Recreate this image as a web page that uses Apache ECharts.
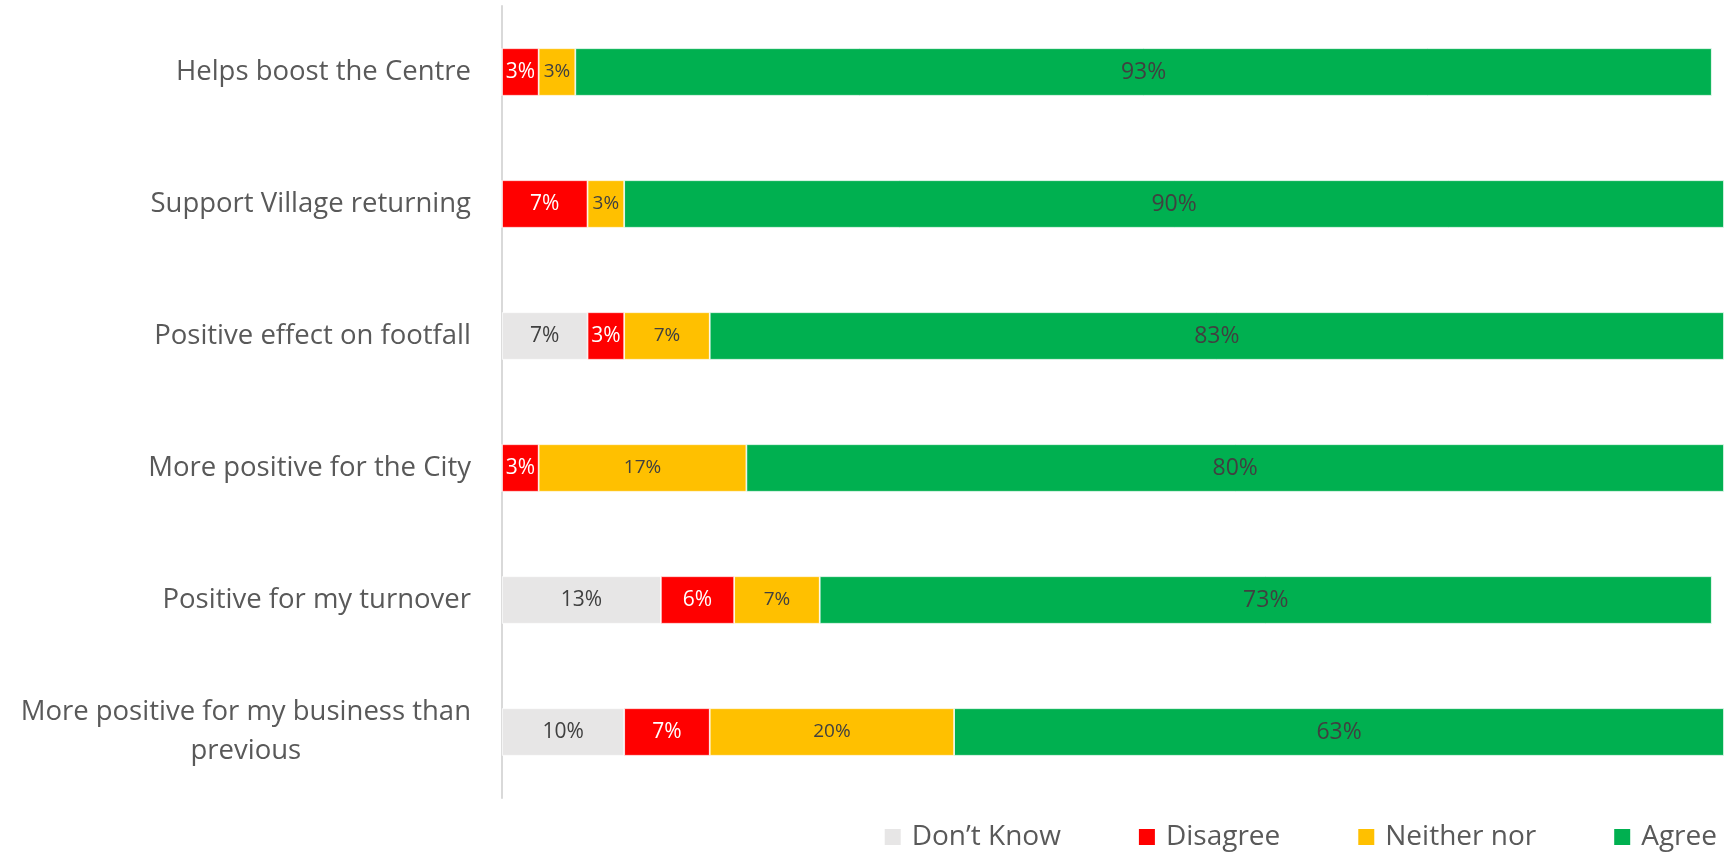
<!DOCTYPE html>
<html>
<head>
<meta charset="utf-8">
<title>Survey agreement by statement</title>
<script src="https://cdn.jsdelivr.net/npm/echarts@6/dist/echarts.min.js"></script>
<style>
  html, body { margin: 0; padding: 0; background: #ffffff; }
  #chart { width: 1734px; height: 855px; }
</style>
</head>
<body>
<div id="chart"></div>
<script>
// Statements, listed top to bottom
const categories = [
  'Helps boost the Centre',
  'Support Village returning',
  'Positive effect on footfall',
  'More positive for the City',
  'Positive for my turnover',
  'More positive for my business than previous'
];

// Share of responses (%) per statement
const dontKnow = [0, 0, 7, 0, 13, 10];
const disagree = [3, 7, 3, 3, 6, 7];
const neither  = [3, 3, 7, 17, 7, 20];
const agree    = [93, 90, 83, 80, 73, 63];

const seriesNames = ['Don\u2019t Know', 'Disagree', 'Neither nor', 'Agree'];

const FONT = '"Open Sans", "DejaVu Sans", sans-serif';
const AXIS_LABEL_SIZE = 27.5;
const LEGEND_SIZE = 28;
const LABEL_WRAP_WIDTH = 472;

// Greedy word wrap based on measured text width
const measureCtx = document.createElement('canvas').getContext('2d');
measureCtx.font = AXIS_LABEL_SIZE + 'px "Open Sans"';
function wrapLabel(text, maxWidth) {
  const words = text.split(' ');
  const lines = [];
  let line = '';
  words.forEach(function (w) {
    const test = line ? line + ' ' + w : w;
    if (line && measureCtx.measureText(test).width > maxWidth) {
      lines.push(line);
      line = w;
    } else {
      line = test;
    }
  });
  if (line) lines.push(line);
  return lines;
}

function pctLabel(color, size) {
  return {
    show: true,
    position: 'inside',
    color: color,
    fontFamily: FONT,
    fontSize: size,
    formatter: function (p) { return p.value ? p.value + '%' : ''; }
  };
}

function barSeries(name, data, color, labelColor, labelSize) {
  return {
    name: name,
    type: 'bar',
    stack: 'total',
    data: data,
    barCategoryGap: '64%',
    itemStyle: { color: color, borderColor: '#ffffff', borderWidth: 0.75 },
    label: pctLabel(labelColor, labelSize),
    emphasis: { disabled: true }
  };
}

const chart = echarts.init(document.getElementById('chart'));
chart.setOption({
  animation: false,
  backgroundColor: '#ffffff',
  grid: { left: 502, right: 10, top: 6, bottom: 57, containLabel: false },
  legend: {
    data: seriesNames,
    right: 17,
    top: 822,
    padding: 0,
    itemGap: 76,
    itemWidth: 18,
    itemHeight: 18,
    icon: 'rect',
    selectedMode: false,
    textStyle: {
      color: '#595959',
      fontFamily: FONT,
      fontSize: LEGEND_SIZE,
      lineHeight: 30,
      padding: [0, 0, 0, 5]
    }
  },
  xAxis: {
    type: 'value',
    min: 0,
    max: 100,
    show: false
  },
  yAxis: {
    type: 'category',
    data: categories,
    inverse: true,
    axisLine: { show: true, lineStyle: { color: '#D9D9D9', width: 2 } },
    axisTick: { show: false },
    splitLine: { show: false },
    axisLabel: {
      margin: 31,
      color: '#595959',
      fontFamily: FONT,
      fontSize: AXIS_LABEL_SIZE,
      lineHeight: 39,
      formatter: function (name) {
        const lines = wrapLabel(name, LABEL_WRAP_WIDTH);
        if (lines.length === 1) return name;
        return lines.map(function (l) { return '{c|' + l + '}'; }).join('\n');
      },
      rich: {
        c: {
          align: 'center',
          color: '#595959',
          fontFamily: FONT,
          fontSize: AXIS_LABEL_SIZE,
          lineHeight: 39
        }
      }
    }
  },
  series: [
    barSeries(seriesNames[0], dontKnow, '#E7E6E6', '#404040', 21),
    barSeries(seriesNames[1], disagree, '#FF0000', '#FFFFFF', 21),
    barSeries(seriesNames[2], neither,  '#FFC000', '#404040', 19),
    barSeries(seriesNames[3], agree,    '#00B050', '#404040', 23)
  ]
});
</script>
</body>
</html>
